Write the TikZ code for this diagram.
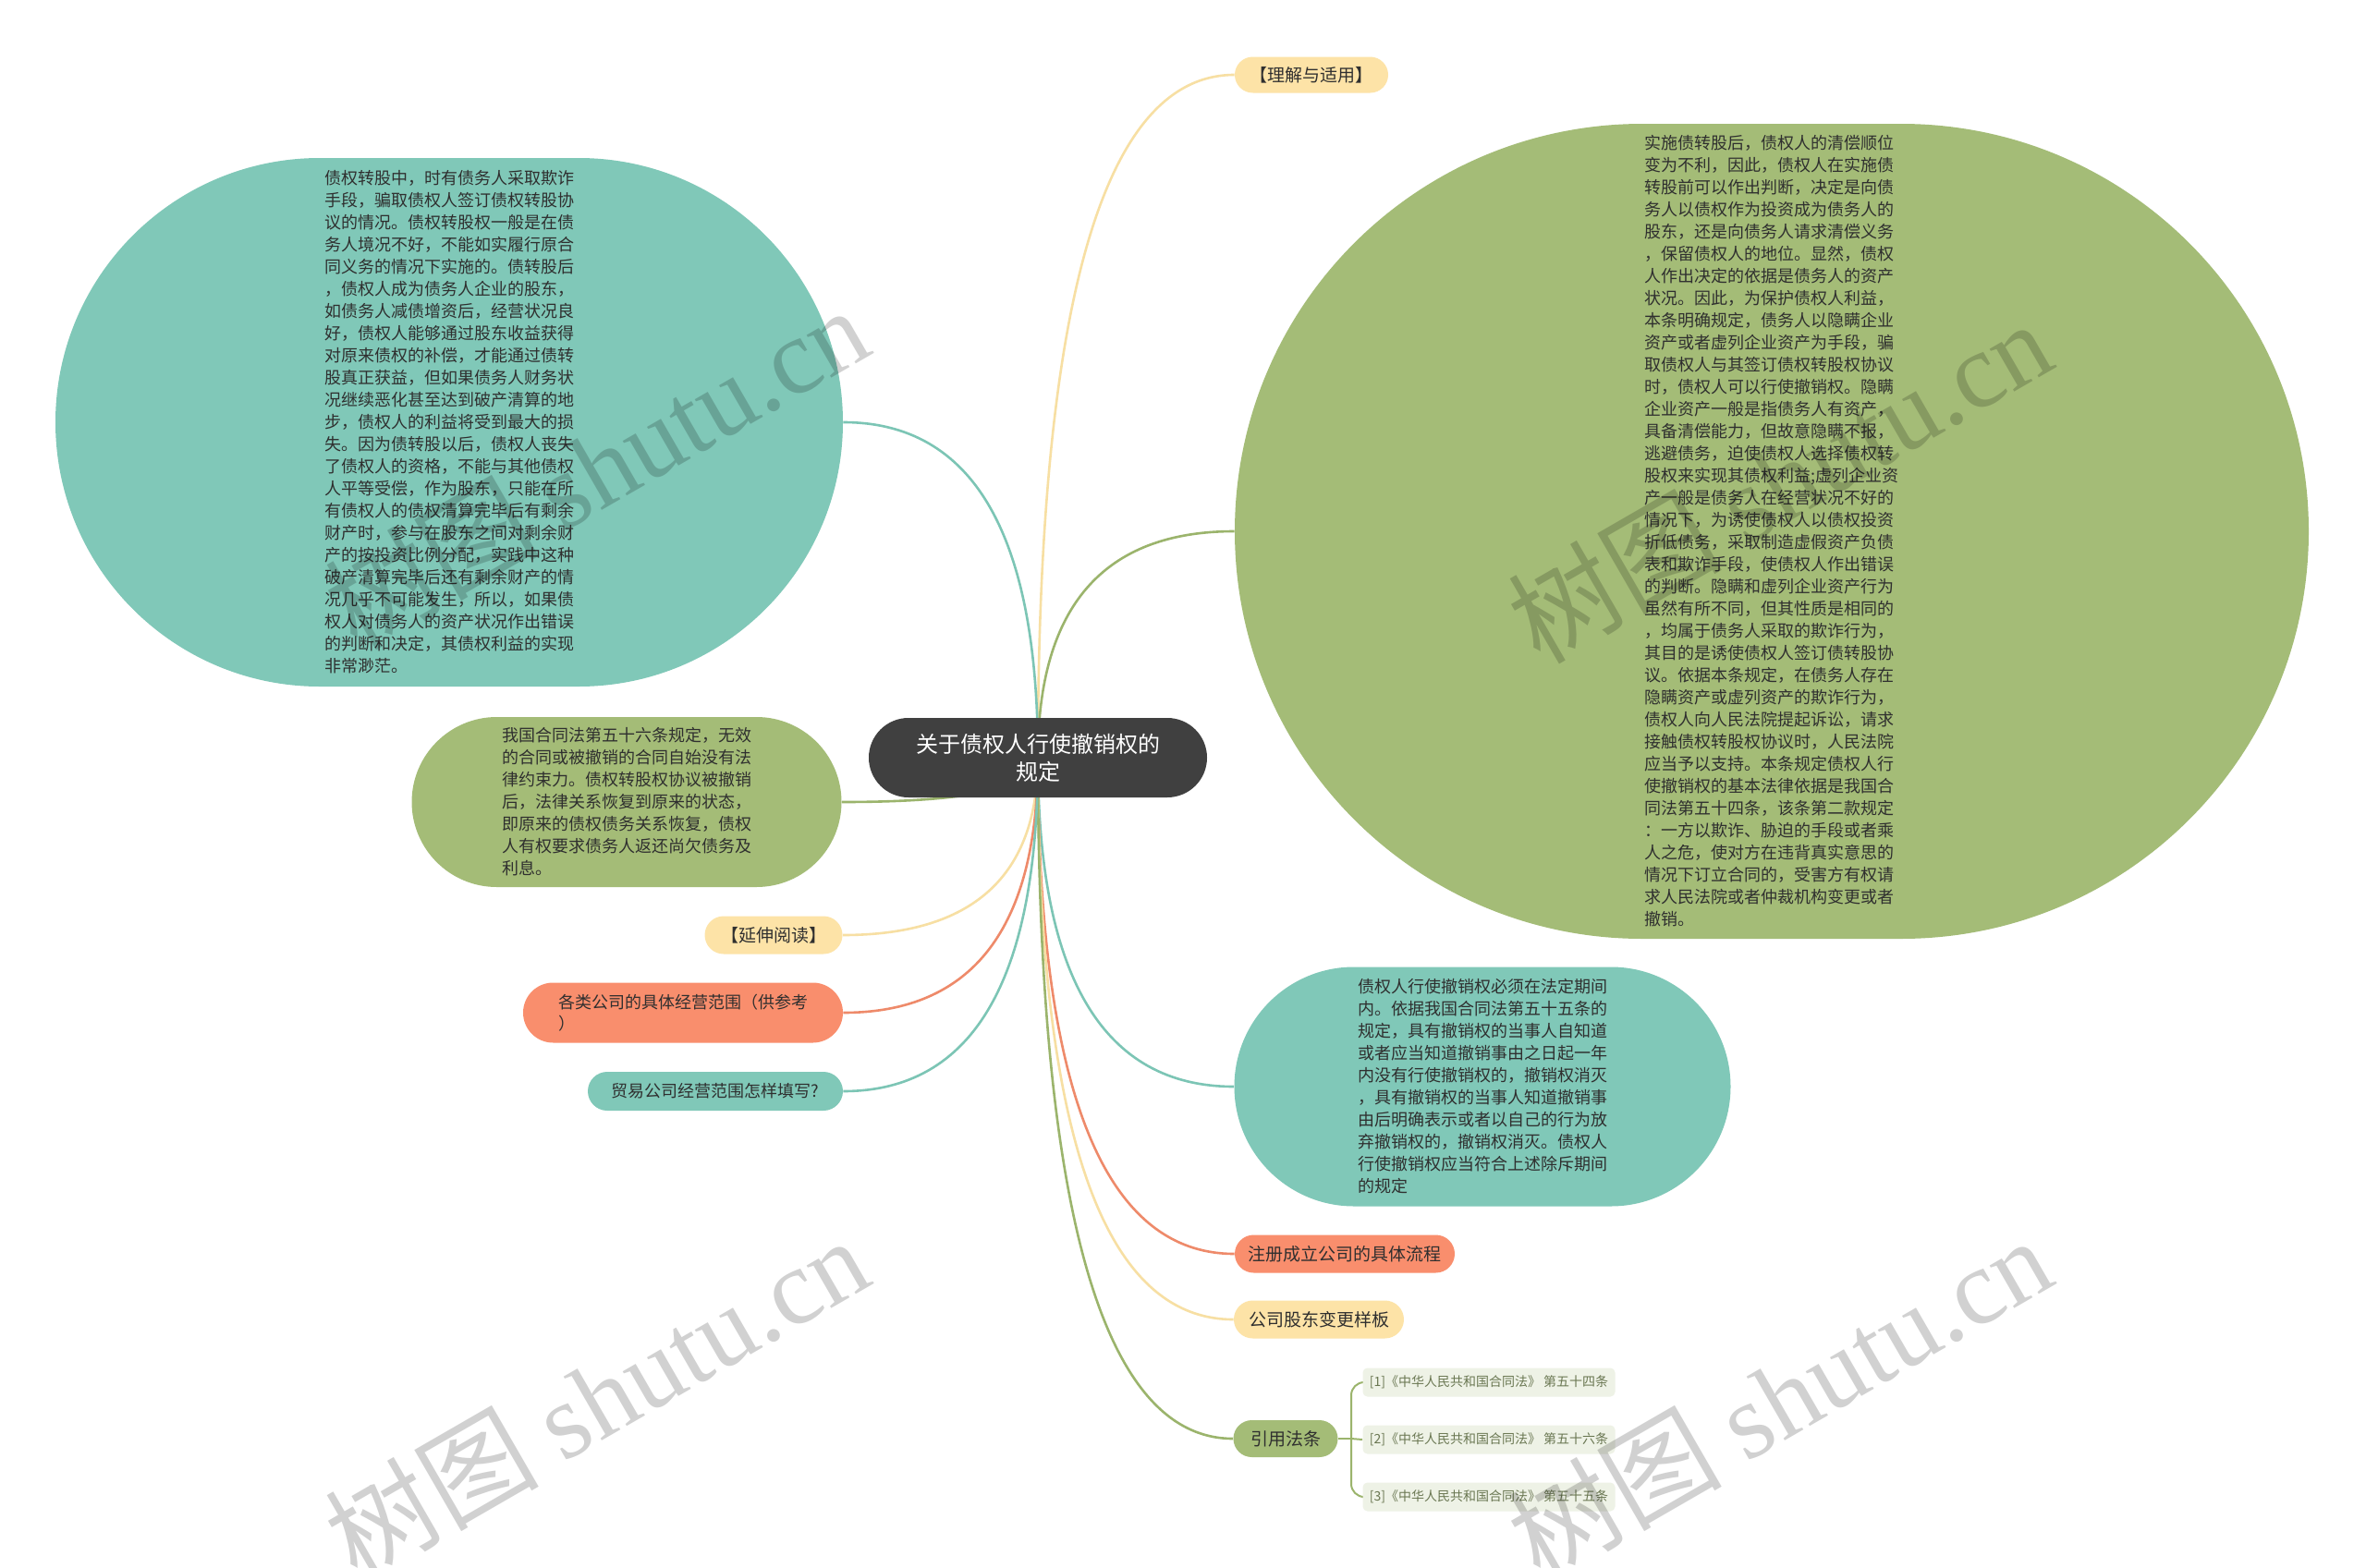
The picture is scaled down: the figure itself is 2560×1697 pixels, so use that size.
\documentclass[tikz,border=0pt]{standalone}
\usepackage{fontspec}
\setmainfont{Noto Sans CJK SC}
\newfontfamily\wmlatin{Liberation Serif}
\usetikzlibrary{calc}
\definecolor{cTeal}{HTML}{80C8B8}
\definecolor{cOlive}{HTML}{A4BC77}
\definecolor{cSalmon}{HTML}{F98E6D}
\definecolor{cYellow}{HTML}{FDE3A7}
\definecolor{cRoot}{HTML}{404040}
\definecolor{cRef}{HTML}{EEF2E6}
\definecolor{cRefText}{HTML}{6A7752}
\definecolor{cText}{HTML}{2F2F2F}
\definecolor{lTeal}{HTML}{7CC5B5}
\definecolor{lOlive}{HTML}{9BB46C}
\definecolor{lSalmon}{HTML}{EE8A6A}
\definecolor{lYellow}{HTML}{F7DFA3}
\pgfdeclarelayer{bg}
\pgfsetlayers{bg,main}
\newcommand\mmlink[3]{\draw[link,#1] (#2) .. controls ($(#2)!0.667!(#2 |- #3)$) and ($(#3)!0.667!(#2 |- #3)$) .. (#3);}
\begin{document}
\begin{tikzpicture}[x=0.5pt,y=-0.5pt,
  pill/.style={inner sep=0pt, draw=none},
  body/.style={font=\fontsize{9}{12}\selectfont, align=left, text=cText},
  small/.style={font=\fontsize{9.5}{12}\selectfont, align=center, text=cText},
  reftext/.style={font=\fontsize{7}{9}\selectfont, text=cRefText},
  link/.style={line width=1.3pt},
  wm/.style={text=black, opacity=0.18, rotate=30, font=\fontsize{58}{58}\selectfont}
]
\useasboundingbox (0,0) rectangle (2560,1697);

% root
\node[pill, fill=cRoot, minimum width=183pt, minimum height=43pt, rounded corners=21.5pt,
  text=white, font=\fontsize{12}{15}\selectfont, align=center] (root) at (1123,820) {关于债权人行使撤销权的\\规定};

% right side
\node[pill, fill=cYellow, minimum width=83pt, minimum height=19.5pt, rounded corners=9.75pt, small] (ljsy) at (1419,81) {【理解与适用】};

\node[pill, fill=cOlive, minimum width=581pt, minimum height=441pt, rounded corners=220.5pt, body] (rb) at (1917,575) {%
实施债转股后，债权人的清偿顺位\\
变为不利，因此，债权人在实施债\\
转股前可以作出判断，决定是向债\\
务人以债权作为投资成为债务人的\\
股东，还是向债务人请求清偿义务\\
，保留债权人的地位。显然，债权\\
人作出决定的依据是债务人的资产\\
状况。因此，为保护债权人利益，\\
本条明确规定，债务人以隐瞒企业\\
资产或者虚列企业资产为手段，骗\\
取债权人与其签订债权转股权协议\\
时，债权人可以行使撤销权。隐瞒\\
企业资产一般是指债务人有资产，\\
具备清偿能力，但故意隐瞒不报，\\
逃避债务，迫使债权人选择债权转\\
股权来实现其债权利益;虚列企业资\\
产一般是债务人在经营状况不好的\\
情况下，为诱使债权人以债权投资\\
折低债务，采取制造虚假资产负债\\
表和欺诈手段，使债权人作出错误\\
的判断。隐瞒和虚列企业资产行为\\
虽然有所不同，但其性质是相同的\\
，均属于债务人采取的欺诈行为，\\
其目的是诱使债权人签订债转股协\\
议。依据本条规定，在债务人存在\\
隐瞒资产或虚列资产的欺诈行为，\\
债权人向人民法院提起诉讼，请求\\
接触债权转股权协议时，人民法院\\
应当予以支持。本条规定债权人行\\
使撤销权的基本法律依据是我国合\\
同法第五十四条，该条第二款规定\\
：一方以欺诈、胁迫的手段或者乘\\
人之危，使对方在违背真实意思的\\
情况下订立合同的，受害方有权请\\
求人民法院或者仲裁机构变更或者\\
撤销。};

\node[pill, fill=cTeal, minimum width=268.5pt, minimum height=129.5pt, rounded corners=64.75pt, body] (rt) at (1604,1176) {%
债权人行使撤销权必须在法定期间\\
内。依据我国合同法第五十五条的\\
规定，具有撤销权的当事人自知道\\
或者应当知道撤销事由之日起一年\\
内没有行使撤销权的，撤销权消灭\\
，具有撤销权的当事人知道撤销事\\
由后明确表示或者以自己的行为放\\
弃撤销权的，撤销权消灭。债权人\\
行使撤销权应当符合上述除斥期间\\
的规定};

\node[pill, fill=cSalmon, minimum width=119pt, minimum height=20.5pt, rounded corners=10.25pt, small] (zhuce) at (1455,1357) {注册成立公司的具体流程};
\node[pill, fill=cYellow, minimum width=92pt, minimum height=20.5pt, rounded corners=10.25pt, small] (gudong) at (1427,1428) {公司股东变更样板};
\node[pill, fill=cOlive, minimum width=56.5pt, minimum height=20pt, rounded corners=10pt, small] (yinyong) at (1391,1557) {引用法条};

\node[pill, fill=cRef, minimum width=136.5pt, minimum height=15.5pt, rounded corners=2.5pt, reftext] (r1) at (1611,1496) {[1]《中华人民共和国合同法》 第五十四条};
\node[pill, fill=cRef, minimum width=136.5pt, minimum height=15.5pt, rounded corners=2.5pt, reftext] (r2) at (1611,1558) {[2]《中华人民共和国合同法》 第五十六条};
\node[pill, fill=cRef, minimum width=136.5pt, minimum height=15.5pt, rounded corners=2.5pt, reftext] (r3) at (1611,1620) {[3]《中华人民共和国合同法》 第五十五条};
\coordinate (bx) at (1462,1557);

% left side
\node[pill, fill=cTeal, minimum width=426pt, minimum height=286pt, rounded corners=143pt, body] (lt) at (486,457) {%
债权转股中，时有债务人采取欺诈\\
手段，骗取债权人签订债权转股协\\
议的情况。债权转股权一般是在债\\
务人境况不好，不能如实履行原合\\
同义务的情况下实施的。债转股后\\
，债权人成为债务人企业的股东，\\
如债务人减债增资后，经营状况良\\
好，债权人能够通过股东收益获得\\
对原来债权的补偿，才能通过债转\\
股真正获益，但如果债务人财务状\\
况继续恶化甚至达到破产清算的地\\
步，债权人的利益将受到最大的损\\
失。因为债转股以后，债权人丧失\\
了债权人的资格，不能与其他债权\\
人平等受偿，作为股东，只能在所\\
有债权人的债权清算完毕后有剩余\\
财产时，参与在股东之间对剩余财\\
产的按投资比例分配，实践中这种\\
破产清算完毕后还有剩余财产的情\\
况几乎不可能发生，所以，如果债\\
权人对债务人的资产状况作出错误\\
的判断和决定，其债权利益的实现\\
非常渺茫。};

\node[pill, fill=cOlive, minimum width=232.5pt, minimum height=92pt, rounded corners=46pt, body] (lg) at (678,868) {%
我国合同法第五十六条规定，无效\\
的合同或被撤销的合同自始没有法\\
律约束力。债权转股权协议被撤销\\
后，法律关系恢复到原来的状态，\\
即原来的债权债务关系恢复，债权\\
人有权要求债务人返还尚欠债务及\\
利息。};

\node[pill, fill=cYellow, minimum width=74.5pt, minimum height=20.5pt, rounded corners=10.25pt, small] (yanshen) at (837,1012) {【延伸阅读】};
\node[pill, fill=cSalmon, minimum width=173pt, minimum height=32.5pt, rounded corners=16.25pt, body, font=\fontsize{9}{11.5}\selectfont] (gelei) at (739,1096) {各类公司的具体经营范围（供参考\\）};
\node[pill, fill=cTeal, minimum width=138pt, minimum height=21pt, rounded corners=10.5pt, small, font=\fontsize{9}{12}\selectfont] (maoyi) at (774,1181) {贸易公司经营范围怎样填写?};

% connectors
\begin{pgfonlayer}{bg}
\fill[white] (0,0) rectangle (2560,1697);
\mmlink{lYellow}{root.center}{ljsy.west}
\mmlink{lOlive}{root.center}{rb.west}
\mmlink{lTeal}{root.center}{rt.west}
\mmlink{lSalmon}{root.center}{zhuce.west}
\mmlink{lYellow}{root.center}{gudong.west}
\mmlink{lOlive}{root.center}{yinyong.west}
\mmlink{lTeal}{root.center}{lt.east}
\mmlink{lOlive}{root.center}{lg.east}
\mmlink{lYellow}{root.center}{yanshen.east}
\mmlink{lSalmon}{root.center}{gelei.east}
\mmlink{lTeal}{root.center}{maoyi.east}
\draw[lOlive, line width=1pt] (yinyong.east) -- (bx);
\draw[lOlive, line width=1pt, rounded corners=7pt] (bx) |- (r1.west);
\draw[lOlive, line width=1pt] (bx) -- (r2.west);
\draw[lOlive, line width=1pt, rounded corners=7pt] (bx) |- (r3.west);
\end{pgfonlayer}

% watermarks
\node[wm] (wm1) at (645,505) {树图 {\wmlatin shutu.cn}};
\node[wm] (wm2) at (1925,520) {树图 {\wmlatin shutu.cn}};
\node[wm] (wm3) at (645,1512) {树图 {\wmlatin shutu.cn}};
\node[wm] (wm4) at (1925,1512) {树图 {\wmlatin shutu.cn}};
\end{tikzpicture}
\end{document}
